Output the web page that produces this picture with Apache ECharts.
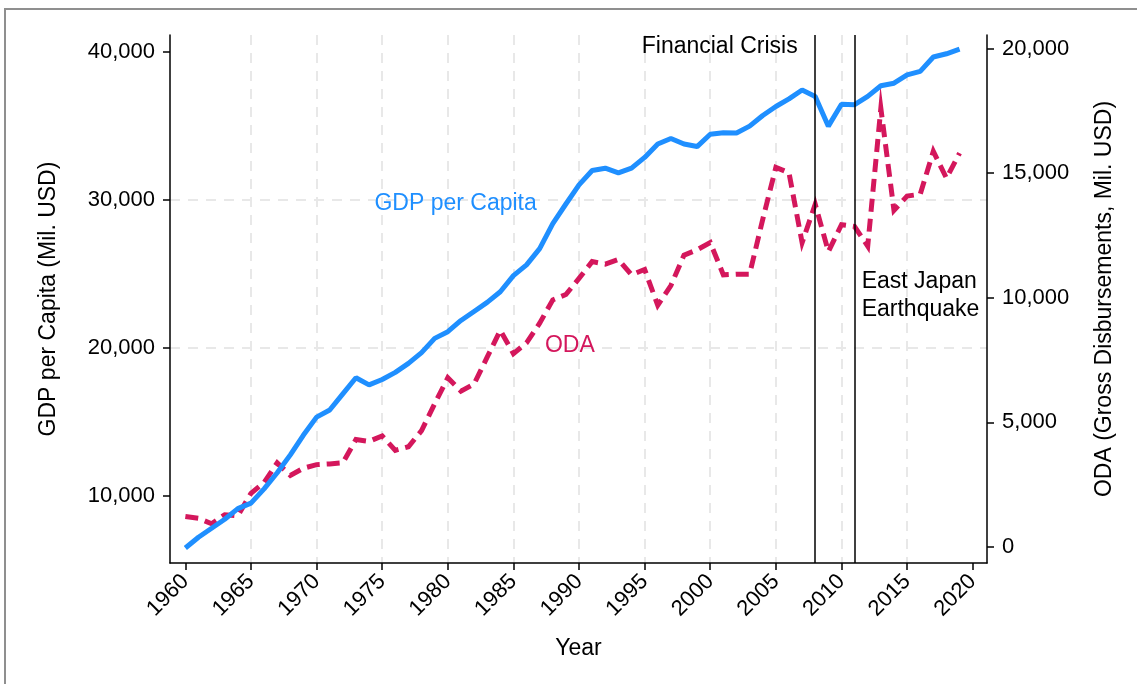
<!DOCTYPE html>
<html>
<head>
<meta charset="utf-8">
<script src="https://cdn.jsdelivr.net/npm/echarts@6/dist/echarts.min.js"></script>
<style>
  html, body { margin: 0; background: #fff; }
  #chart { width: 1137px; height: 684px; }
</style>
</head>
<body>
<div id="chart"></div>
<script>
// Japan: GDP per capita vs ODA gross disbursements, 1960-2019
const YEARS = [
  1960, 1961, 1962, 1963, 1964, 1965, 1966, 1967, 1968, 1969,
  1970, 1971, 1972, 1973, 1974, 1975, 1976, 1977, 1978, 1979,
  1980, 1981, 1982, 1983, 1984, 1985, 1986, 1987, 1988, 1989,
  1990, 1991, 1992, 1993, 1994, 1995, 1996, 1997, 1998, 1999,
  2000, 2001, 2002, 2003, 2004, 2005, 2006, 2007, 2008, 2009,
  2010, 2011, 2012, 2013, 2014, 2015, 2016, 2017, 2018, 2019
];
const GDP = [
  6490, 7215, 7820, 8430, 9150, 9520, 10480, 11570, 12780, 14120,
  15330, 15810, 16900, 17990, 17510, 17870, 18350, 18960, 19690, 20650,
  21100, 21860, 22470, 23080, 23800, 24890, 25620, 26710, 28400, 29730,
  31020, 31990, 32150, 31840, 32150, 32880, 33780, 34160, 33780, 33610,
  34440, 34550, 34530, 34990, 35710, 36320, 36830, 37430, 37000, 34990,
  36470, 36440, 37000, 37720, 37890, 38450, 38690, 39660, 39880, 40190
];
const ODA = [
  1221, 1149, 934, 1293, 1250, 2155, 2586, 3376, 2874, 3161,
  3305, 3333, 3376, 4310, 4239, 4454, 3879, 4023, 4670, 5747,
  6790, 6250, 6537, 7615, 8693, 7759, 8190, 8980, 9914, 10129,
  10776, 11451, 11351, 11537, 10920, 11135, 9698, 10489, 11710, 11925,
  12213, 10920, 10948, 10948, 13147, 15230, 15014, 12213, 13750, 11853,
  12931, 12859, 12069, 17601, 13506, 14080, 14152, 15876, 14799, 15805
];
const X_TICKS = [1960, 1965, 1970, 1975, 1980, 1985, 1990, 1995, 2000, 2005, 2010, 2015, 2020];
const GDP_TICKS = [10000, 20000, 30000, 40000];
const ODA_TICKS = [0, 5000, 10000, 15000, 20000];
const EVENT_YEARS = [2008, 2011];

const BLUE = '#1f8fff';
const RED = '#d4175c';
const FONT = '"Liberation Sans", Arial, sans-serif';
const fmt = v => Number(v).toLocaleString('en-US');

const chart = echarts.init(document.getElementById('chart'), null, { renderer: 'canvas' });

const axisLine = { show: true, onZero: false, lineStyle: { color: '#000', width: 1.5 } };
const tickStyle = { show: true, length: 7, lineStyle: { color: '#000', width: 1.5 } };
const gridLine = { show: true, showMinLine: false, showMaxLine: false,
  lineStyle: { color: '#e8e8e8', width: 2, type: [10, 8] } };
const tickText = { color: '#000', fontSize: 22, fontFamily: FONT };
const nameText = { color: '#000', fontSize: 23, fontFamily: FONT };

chart.setOption({
  animation: false,
  textStyle: { fontFamily: FONT },
  graphic: [{
    type: 'rect', silent: true, z: -1,
    shape: { x: 5, y: 9, width: 1200, height: 800 },
    style: { fill: 'none', stroke: '#8f8f8f', lineWidth: 2 },
  }],
  grid: { left: 170, right: 150, top: 35, bottom: 121 },
  xAxis: {
    type: 'value', min: 1958.83, max: 2021.09, splitNumber: 12,
    name: 'Year', nameLocation: 'middle', nameGap: 74, nameTextStyle: nameText,
    axisLine,
    axisTick: { ...tickStyle, customValues: X_TICKS },
    axisLabel: { ...tickText, customValues: X_TICKS, rotate: 45, margin: 15, formatter: v => String(v) },
    splitLine: gridLine,
  },
  yAxis: [{
    type: 'value', position: 'left', min: 5473, max: 41149, splitNumber: 4,
    name: 'GDP per Capita (Mil. USD)', nameLocation: 'middle', nameRotate: 90, nameGap: 110,
    nameTextStyle: nameText,
    axisLine,
    axisTick: { ...tickStyle, customValues: GDP_TICKS },
    axisLabel: { ...tickText, customValues: GDP_TICKS, margin: 15, formatter: fmt },
    splitLine: gridLine,
  }, {
    type: 'value', position: 'right', min: -642, max: 20542, splitNumber: 4,
    name: 'ODA (Gross Disbursements, Mil. USD)', nameLocation: 'middle', nameRotate: 90, nameGap: 106,
    nameTextStyle: nameText,
    axisLine,
    axisTick: { ...tickStyle, customValues: ODA_TICKS },
    axisLabel: { ...tickText, customValues: ODA_TICKS, margin: 15, formatter: fmt },
    splitLine: { show: false },
  }],
  series: [{
    name: 'ODA', type: 'line', yAxisIndex: 1, z: 2,
    symbol: 'none', silent: true,
    data: YEARS.map((y, i) => [y, ODA[i]]),
    lineStyle: { color: RED, width: 5, type: [13, 7], cap: 'butt', join: 'miter' },
    markPoint: {
      symbol: 'circle', symbolSize: 0, silent: true,
      label: { show: true, formatter: '{b}', position: 'right', distance: 0,
        color: RED, fontSize: 23, fontFamily: FONT },
      data: [{ name: 'ODA', coord: [1987.4, 8083] }],
    },
  }, {
    name: 'GDP per Capita', type: 'line', yAxisIndex: 0, z: 3,
    symbol: 'none', silent: true,
    data: YEARS.map((y, i) => [y, GDP[i]]),
    lineStyle: { color: BLUE, width: 5 },
    markLine: {
      silent: true, symbol: 'none', label: { show: false },
      lineStyle: { color: '#000', width: 1.5, type: 'solid' },
      data: EVENT_YEARS.map(x => ({ xAxis: x })),
    },
    markPoint: {
      symbol: 'circle', symbolSize: 0, silent: true,
      label: { show: true, formatter: '{b}', distance: 0, fontSize: 23, fontFamily: FONT, color: '#000' },
      data: [
        { name: 'Financial Crisis', coord: [2006.66, 40338], label: { position: 'left' } },
        { name: 'GDP per Capita', coord: [1974.41, 29730], label: { position: 'right', color: BLUE } },
        { name: 'East Japan\nEarthquake', coord: [2011.54, 23514], label: { position: 'right', lineHeight: 28 } },
      ],
    },
  }],
});
</script>
</body>
</html>
